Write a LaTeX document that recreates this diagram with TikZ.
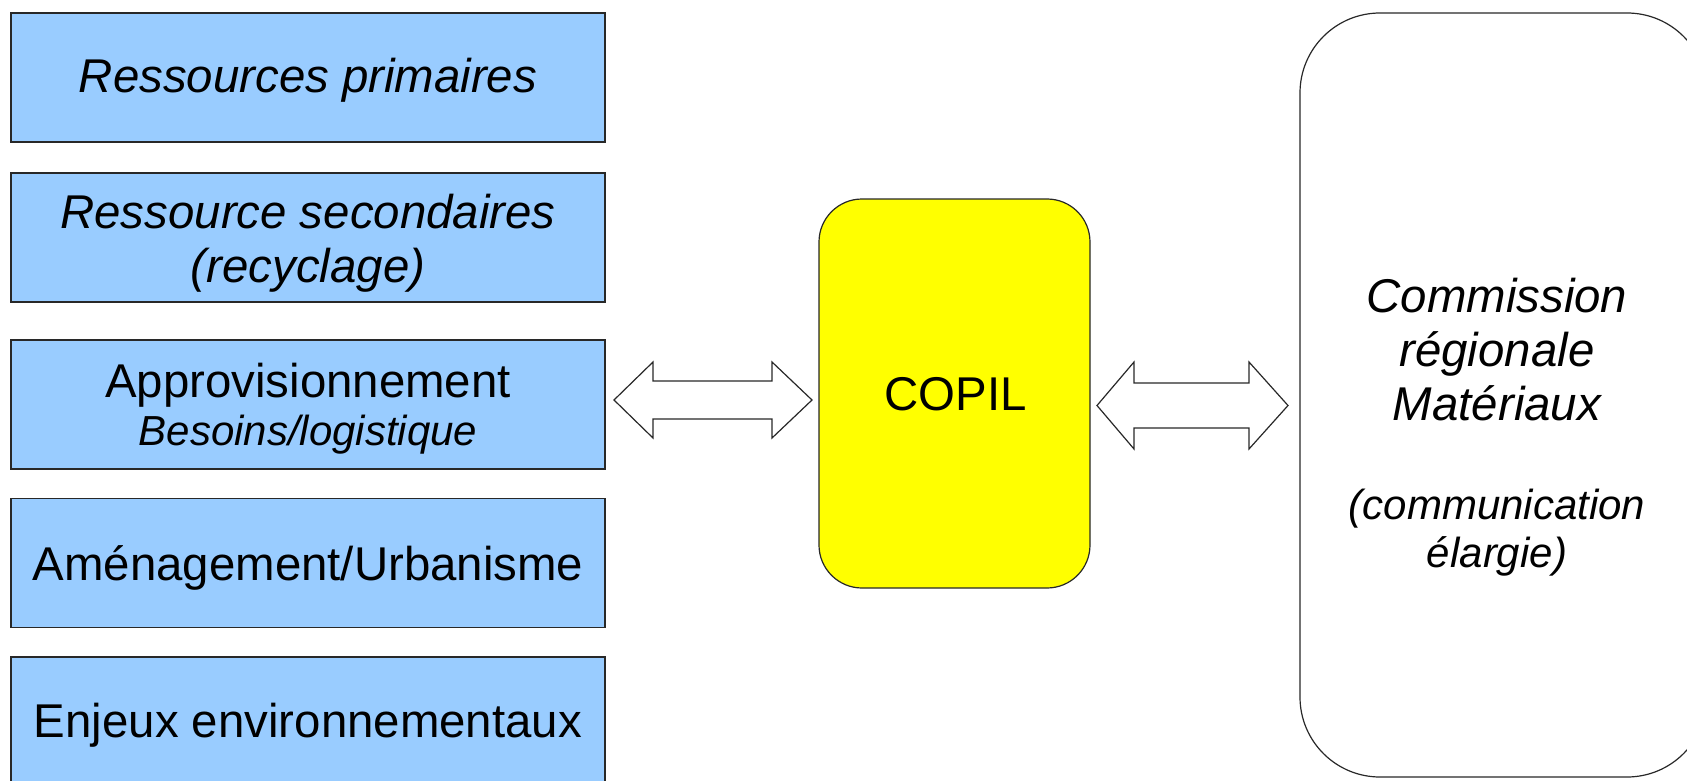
\documentclass[tikz,border=0pt]{standalone}
\usepackage{fontspec}
\setmainfont{Liberation Sans}
\definecolor{boxblue}{RGB}{153,204,255}
\definecolor{copilyellow}{RGB}{255,255,0}
\definecolor{edge}{RGB}{40,40,40}
\newcommand{\bigf}{\fontsize{23.7}{27}\selectfont}
\newcommand{\smallf}{\fontsize{21}{24}\selectfont}
\tikzset{
  topic/.style={draw=edge, line width=0.6pt, fill=boxblue, minimum width=297pt, minimum height=64.5pt, inner sep=0pt},
  label/.style={anchor=base, inner sep=0pt, font=\bigf},
  blockarrow/.style={draw=edge, line width=0.6pt, fill=white, line join=miter},
}
\begin{document}
\begin{tikzpicture}[x=0.5pt,y=-0.5pt]
\clip (0,0) rectangle (1687,781);
\fill[white] (0,0) rectangle (1687,781);
% left boxes
\node[topic] (b1) at (308,77.5) {};
\node[topic] (b2) at (308,237.5) {};
\node[topic] (b3) at (308,404.5) {};
\node[topic] (b4) at (308,563) {};
\node[topic] (b5) at (308,721.5) {};
\node[label] (t1) at (308,93) {\itshape Ressources primaires};
\node[label] (t2) at (308,228) {\begin{tabular}[t]{@{}c@{}}\itshape Ressource secondaires\\\itshape (recyclage)\end{tabular}};
\node[label] (t3) at (308,397) {\begin{tabular}[t]{@{}c@{}}Approvisionnement\\[-3pt]{\smallf\itshape Besoins/logistique}\end{tabular}};
\node[label] (t4) at (308,580) {Aménagement/Urbanisme};
\node[label] (t5) at (308,737) {Enjeux environnementaux};
% COPIL
\node[draw=edge, line width=0.6pt, fill=copilyellow, rounded corners=21.5pt, minimum width=135.5pt, minimum height=194.5pt, inner sep=0pt] (copil) at (954.5,393.5) {};
\node[label] (tc) at (955.5,410) {COPIL};
% right box
\node[draw=edge, line width=0.6pt, fill=white, rounded corners=40pt, minimum width=203.5pt, minimum height=382pt, inner sep=0pt] (crm) at (1503.5,395) {};
\node[label] (tr) at (1497,312) {\begin{tabular}[t]{@{}c@{}}\itshape Commission\\\itshape régionale\\\itshape Matériaux\\[23pt]{\smallf\itshape (communication}\\[-3.5pt]{\smallf\itshape élargie)}\end{tabular}};
% double block arrows
\draw[blockarrow] (614,400) -- (653,362) -- (653,381) -- (772,381) -- (772,362) -- (812,400) -- (772,438) -- (772,419) -- (653,419) -- (653,438) -- cycle;
\draw[blockarrow] (1097,405.5) -- (1134,362) -- (1134,383) -- (1249,383) -- (1249,362) -- (1288,405.5) -- (1249,449) -- (1249,428) -- (1134,428) -- (1134,449) -- cycle;
\end{tikzpicture}
\end{document}
